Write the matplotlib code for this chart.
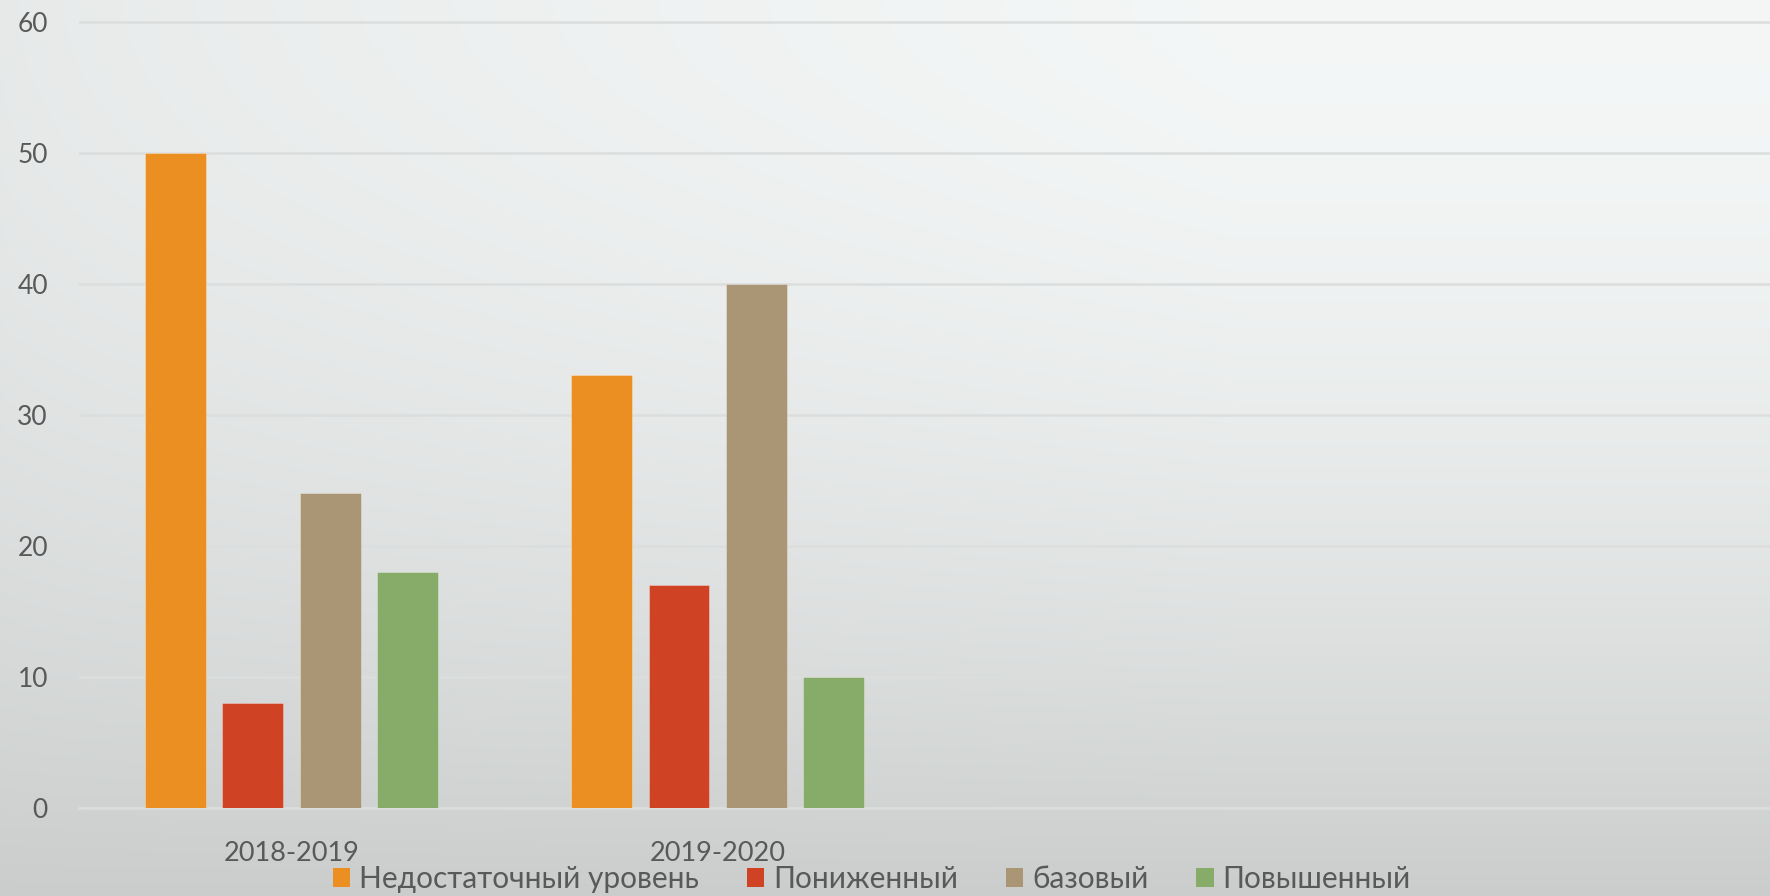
import numpy as np
import matplotlib
matplotlib.use("Agg")
import matplotlib.pyplot as plt
from matplotlib.patches import Patch

categories = ["2018-2019", "2019-2020", "", ""]
series_names = ["Недостаточный уровень", "Пониженный", "базовый", "Повышенный"]
vals_nedost = [50, 33, np.nan, np.nan]
vals_ponizh = [8, 17, np.nan, np.nan]
vals_bazov = [24, 40, np.nan, np.nan]
vals_povysh = [18, 10, np.nan, np.nan]
y_ticks = [0, 10, 20, 30, 40, 50, 60]

colors = ["#EB8F22", "#CF4224", "#AA9574", "#87AB68"]
series = [vals_nedost, vals_ponizh, vals_bazov, vals_povysh]

plt.rcParams['font.family'] = ['Lato', 'DejaVu Sans']

W, H = 1770, 896
fig = plt.figure(figsize=(W / 100, H / 100), dpi=100)

# background gradient
bg = fig.add_axes([0, 0, 1, 1], zorder=-10)
yy, xx = np.mgrid[0:1:300j, 0:1:600j]
top_l = 0.915
top_r = 0.968
bot = 0.805
xfac = np.clip(xx / 0.7, 0, 1) ** 0.7
top = top_l + (top_r - top_l) * xfac
t = np.clip(yy, 0, 1) ** 1.8
v = top * (1 - t) + bot * t
img = np.stack([v * 0.99, v, v], axis=-1)
bg.imshow(np.clip(img, 0, 1), aspect='auto', extent=[0, 1, 0, 1], origin='upper')
bg.axis('off')

left = 78.5
cat_w = 377.5 * 1770 / 1568
ax = fig.add_axes([left / W, 88 / H, 4 * cat_w / W, (874.5 - 88) / H])
ax.set_facecolor('none')

x = np.arange(len(categories))
step = 0.1815
width = 0.143
for i, (vals, c, name) in enumerate(zip(series, colors, series_names)):
    ax.bar(x + (i - 1.5) * step, vals, width=width, color=c, label=name,
           edgecolor=(1, 1, 1, 0.35), linewidth=0.6, zorder=3)

ax.set_xlim(-0.5, len(categories) - 0.5)
ax.set_ylim(0, 60)
ax.set_yticks(y_ticks)
ax.set_xticks(x)
ax.set_xticklabels(categories)
ax.grid(axis='y', color='#dcdede', linewidth=1.8, zorder=0)
ax.set_axisbelow(True)
for s in ['top', 'right', 'left']:
    ax.spines[s].set_visible(False)
ax.spines['bottom'].set_color('#dcdede')
ax.spines['bottom'].set_linewidth(1.8)
ax.tick_params(axis='both', length=0, colors='#595959')
ax.tick_params(axis='y', pad=22, labelsize=19)
ax.tick_params(axis='x', pad=24, labelsize=19.5)
for lbl in ax.get_yticklabels():
    lbl.set_horizontalalignment('right')

handles = [Patch(facecolor=c, edgecolor='none') for c in colors]
leg = fig.legend(handles, series_names, loc='center', bbox_to_anchor=(872 / W, 1 - 879 / H),
                 ncol=4, frameon=False, fontsize=21.5, handlelength=0.58, handleheight=0.58,
                 handletextpad=0.3, columnspacing=1.6, labelcolor='#595959')

fig.savefig("out.png", dpi=100)
